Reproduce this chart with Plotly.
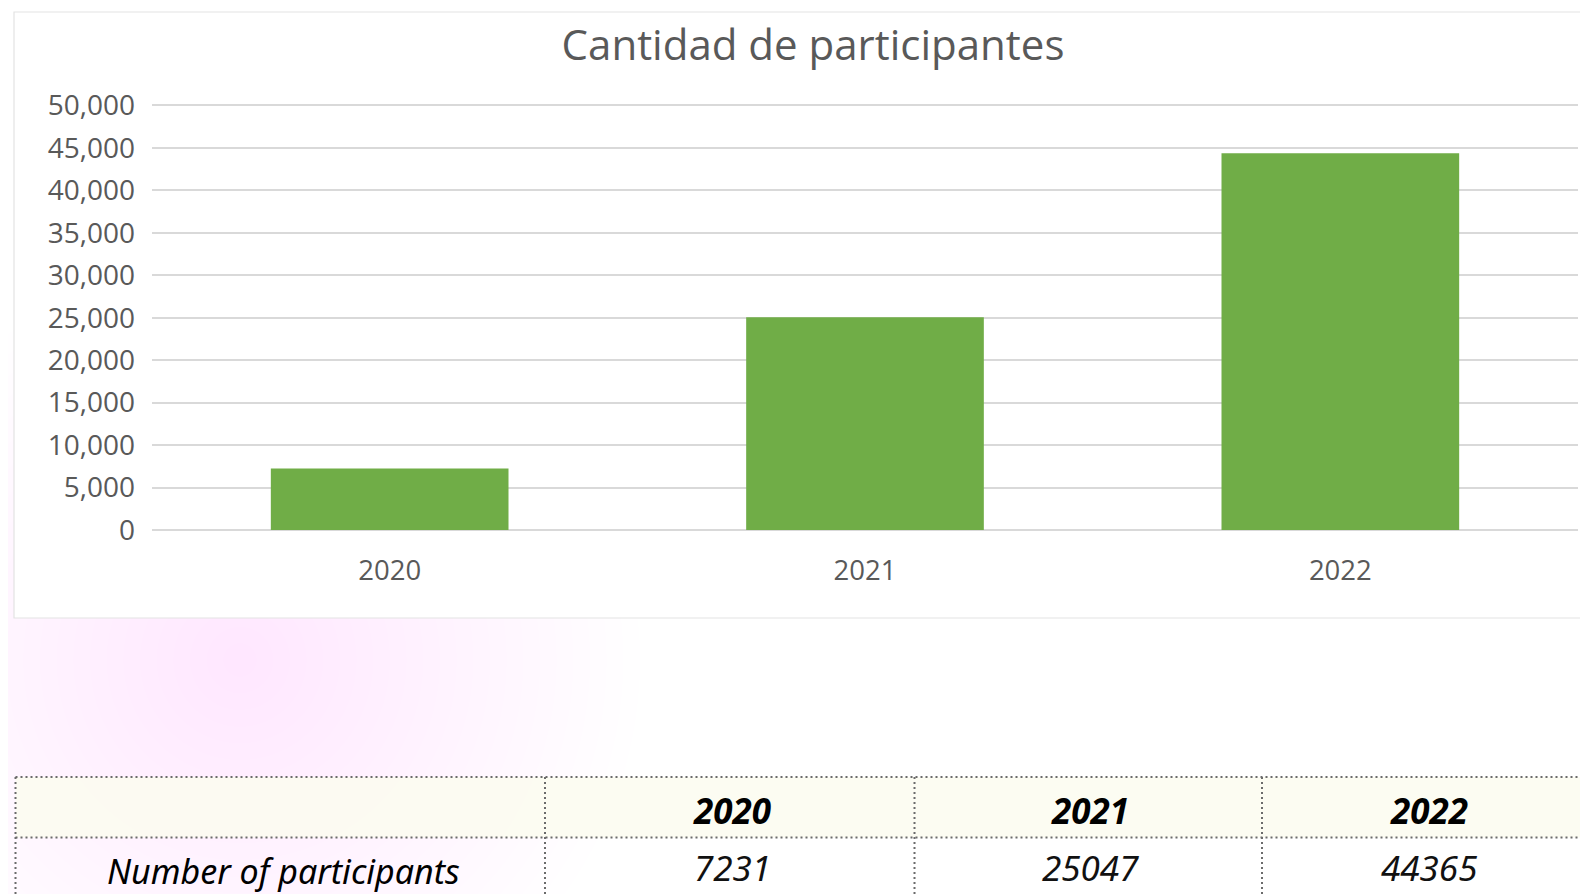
import plotly.graph_objects as go

# ---- data ----
years = ["2020", "2021", "2022"]
participants = [7231, 25047, 44365]
y_max = 50000
y_step = 5000
chart_title = "Cantidad de participantes"
row_label = "Number of participants"

W, H = 1588, 894
OFF = 8  # page body margin offset

def px(x):
    return (x - OFF) / W

def py(y):
    return 1 - (y - OFF) / H

GRID_L, GRID_R = 152, 1578
PLOT_T, PLOT_B = 105.5, 530
pad = 150  # small range padding so the edge gridlines are drawn
k = (PLOT_B - PLOT_T) / y_max
DOM_T, DOM_B = PLOT_T - pad * k, PLOT_B + pad * k

fig = go.Figure()
fig.add_trace(go.Bar(
    x=years, y=participants,
    marker=dict(color="#70AD47", line=dict(width=0)),
    hoverinfo="x+y",
))

shapes = []
# faint pink background glow
n = 24
for i in range(n):
    r = 400 * (1 - i / n)
    cx, cy = 240, 660
    shapes.append(dict(type="circle", xref="paper", yref="paper",
                       x0=px(cx - r), x1=px(cx + r), y0=py(cy + r), y1=py(cy - r),
                       fillcolor="rgba(245,180,205,0.0075)", line=dict(width=0), layer="below"))
# chart card
shapes.append(dict(type="rect", xref="paper", yref="paper",
                   x0=px(14), x1=px(1610), y0=py(618), y1=py(12),
                   fillcolor="white", line=dict(color="#e3e3e3", width=1.2), layer="below"))

# table
T_TOP, T_MID = 777, 837.5
COLS = [15.5, 545, 914.5, 1262]
dot = "2px,3px"
lc = "#6b6b6b"
shapes.append(dict(type="rect", xref="paper", yref="paper",
                   x0=px(COLS[0]), x1=px(1610), y0=py(T_MID), y1=py(T_TOP),
                   fillcolor="rgba(252,252,240,0.85)", line=dict(width=0), layer="below"))
for yy in [T_TOP, T_MID]:
    shapes.append(dict(type="line", xref="paper", yref="paper",
                       x0=px(COLS[0]), x1=px(1610), y0=py(yy), y1=py(yy),
                       line=dict(color=lc, width=2, dash=dot)))
for xx in COLS:
    shapes.append(dict(type="line", xref="paper", yref="paper",
                       x0=px(xx), x1=px(xx), y0=py(T_TOP), y1=py(910),
                       line=dict(color=lc, width=2, dash=dot)))

annotations = []
centers = [732, 1090, 1429]
for yr, v, cx in zip(years, participants, centers):
    annotations.append(dict(xref="paper", yref="paper", x=px(cx), y=py(810),
                            text="<b><i>%s</i></b>" % yr, showarrow=False,
                            xanchor="center", yanchor="middle",
                            font=dict(family="Noto Sans", size=35, color="#000000")))
    annotations.append(dict(xref="paper", yref="paper", x=px(cx), y=py(867),
                            text="<i>%d</i>" % v, showarrow=False,
                            xanchor="center", yanchor="middle",
                            font=dict(family="Noto Sans", size=35, color="#111111")))
annotations.append(dict(xref="paper", yref="paper", x=px(283), y=py(871),
                        text="<i>%s</i>" % row_label, showarrow=False,
                        xanchor="center", yanchor="middle",
                        font=dict(family="Noto Sans", size=34, color="#000000")))

fig.update_layout(
    width=W, height=H,
    margin=dict(l=0, r=0, t=0, b=0, autoexpand=False),
    paper_bgcolor="white",
    plot_bgcolor="rgba(0,0,0,0)",
    showlegend=False,
    bargap=0.5,
    title=dict(text=chart_title, x=px(813), y=py(45), xanchor="center", yanchor="middle",
               xref="paper", yref="container",
               font=dict(family="Open Sans", size=42, color="#595959")),
    xaxis=dict(domain=[px(GRID_L), px(GRID_R)], type="category", range=[-0.5, 2.5],
               automargin=False,
               showgrid=False, showline=False, zeroline=False, ticks="",
               ticklabelstandoff=20,
               tickfont=dict(family="Open Sans", size=27.5, color="#595959")),
    yaxis=dict(domain=[py(DOM_B), py(DOM_T)], range=[-pad, y_max + pad], dtick=y_step,
               tick0=0, automargin=False,
               tickformat=",d", showgrid=True, gridcolor="#d9d9d9", gridwidth=1.5,
               zeroline=False, showline=False, ticks="", ticklabelstandoff=16,
               tickfont=dict(family="Open Sans", size=28, color="#595959")),
    shapes=shapes,
    annotations=annotations,
)

fig.write_html("out.html")
